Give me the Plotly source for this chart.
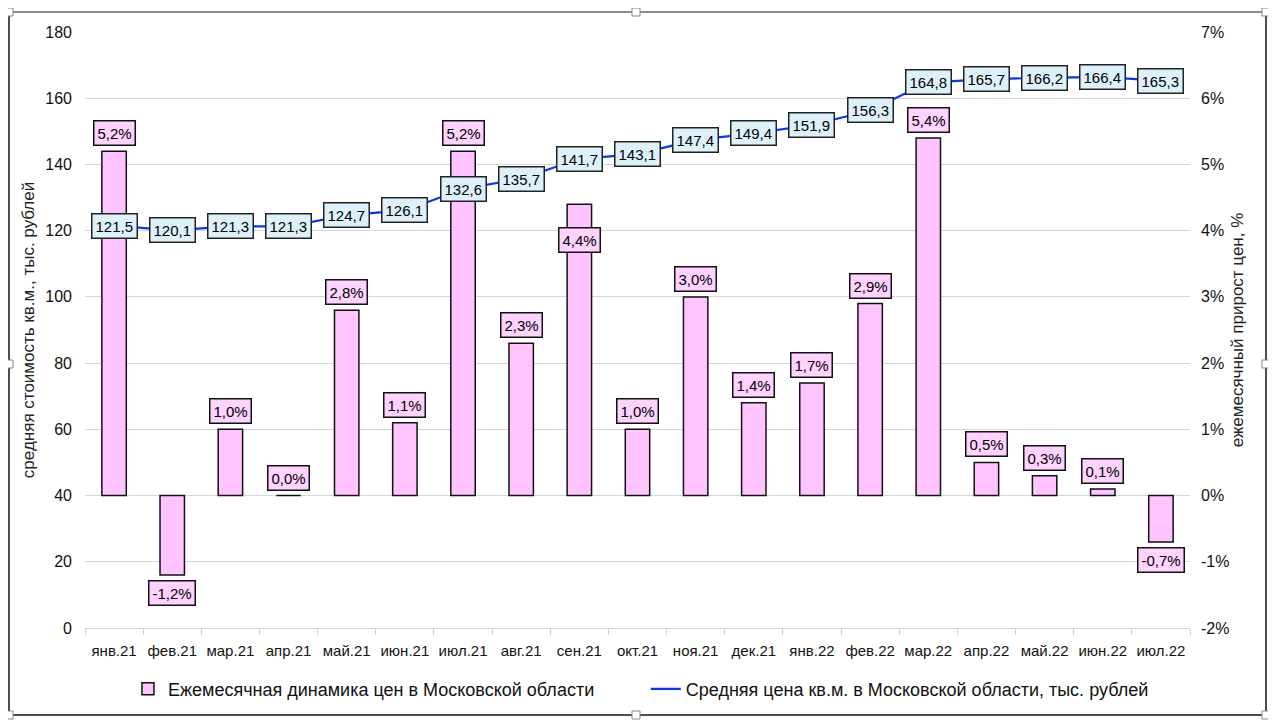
import plotly.graph_objects as go

months = ["янв.21", "фев.21", "мар.21", "апр.21", "май.21", "июн.21", "июл.21", "авг.21",
          "сен.21", "окт.21", "ноя.21", "дек.21", "янв.22", "фев.22", "мар.22", "апр.22",
          "май.22", "июн.22", "июл.22"]
growth_pct = [5.2, -1.2, 1.0, 0.0, 2.8, 1.1, 5.2, 2.3, 4.4, 1.0, 3.0, 1.4, 1.7, 2.9, 5.4, 0.5, 0.3, 0.1, -0.7]
avg_price = [121.5, 120.1, 121.3, 121.3, 124.7, 126.1, 132.6, 135.7, 141.7, 143.1, 147.4, 149.4,
             151.9, 156.3, 164.8, 165.7, 166.2, 166.4, 165.3]
left_ticks = [0, 20, 40, 60, 80, 100, 120, 140, 160, 180]
right_ticks = [-2, -1, 0, 1, 2, 3, 4, 5, 6, 7]

bar_name = "Ежемесячная динамика цен в Московской области"
line_name = "Средняя цена кв.м. в Московской области, тыс. рублей"
left_title = "средняя стоимость кв.м., тыс. рублей"
right_title = "ежемесячный прирост цен, %"

NARROW = "Liberation Sans Narrow, Arial Narrow, Liberation Sans, sans-serif"
REG = "Liberation Sans, Arial, sans-serif"

# page body has an 8px margin; figure coordinates are screen minus 8
OFF = 8
W, H = 1268, 720
L, R, T, B = 77, 86, 24, 100
pw, ph = W - L - R, H - T - B

fig = go.Figure()
fig.add_trace(go.Bar(
    x=months, y=growth_pct, yaxis="y2", name=bar_name, width=0.42,
    marker=dict(color="#FFC4FF", line=dict(color="#111111", width=1.5)),
    legend="legend", hoverinfo="skip"))
fig.add_trace(go.Scatter(
    x=months, y=avg_price, yaxis="y", mode="lines", name=line_name,
    line=dict(color="#0A32FF", width=2.2), legend="legend2", hoverinfo="skip"))

def fmt(v, suffix=""):
    return (f"{v:.1f}").replace(".", ",") + suffix

annotations = []
for m, v in zip(months, avg_price):
    annotations.append(dict(x=m, y=v, xref="x", yref="y", text=fmt(v), showarrow=False,
                            font=dict(family=NARROW, size=15, color="#000"),
                            bgcolor="#DDF1FB", bordercolor="#222", borderwidth=1.5, borderpad=3))
for m, v in zip(months, growth_pct):
    if v < 0:
        ys = -18
    elif m == "сен.21":
        ys = -36
    else:
        ys = 18
    annotations.append(dict(x=m, y=v, xref="x", yref="y2", text=fmt(v, "%"), showarrow=False,
                            yshift=ys,
                            font=dict(family=NARROW, size=15, color="#000"),
                            bgcolor="#FFD2FF", bordercolor="#111", borderwidth=1.5, borderpad=3))

def px2paper(x, y):
    x -= OFF
    y -= OFF
    return (x - L) / pw, (H - B - y) / ph

shapes = []
x0, y0 = px2paper(9, 12)
x1, y1 = px2paper(1266, 715)
shapes.append(dict(type="line", xref="paper", yref="paper", x0=x0, y0=y0, x1=x1, y1=y0,
                   line=dict(color="#666", width=1.5)))
shapes.append(dict(type="line", xref="paper", yref="paper", x0=x0, y0=y1, x1=x1, y1=y1,
                   line=dict(color="#111", width=1.5)))
shapes.append(dict(type="line", xref="paper", yref="paper", x0=x0, y0=y0, x1=x0, y1=y1,
                   line=dict(color="#111", width=1.5)))
shapes.append(dict(type="line", xref="paper", yref="paper", x0=x1, y0=y0, x1=x1, y1=y1,
                   line=dict(color="#111", width=1.5)))
sx, sy0 = px2paper(636, 8)
_, sy1 = px2paper(636, 12)
shapes.append(dict(type="line", xref="paper", yref="paper", x0=sx, y0=sy0, x1=sx, y1=sy1,
                   line=dict(color="#666", width=1)))
for hx, hy in [(9, 12), (636, 12), (1266, 12), (9, 364), (1266, 364), (9, 715), (636, 715), (1266, 715)]:
    a, b = px2paper(hx - 4, hy - 4)
    c, d = px2paper(hx + 4, hy + 4)
    shapes.append(dict(type="rect", xref="paper", yref="paper", x0=a, y0=b, x1=c, y1=d,
                       fillcolor="white", line=dict(color="#888", width=1)))

fig.update_layout(
    width=W, height=H, margin=dict(l=L, r=R, t=T, b=B, autoexpand=False),
    paper_bgcolor="white", plot_bgcolor="white",
    separators=", ",
    showlegend=True, barmode="overlay",
    xaxis=dict(type="category", showgrid=False, showline=True, linecolor="#D0D0D0", linewidth=1,
               ticks="outside", tickson="boundaries", ticklen=6, tickcolor="#D0D0D0",
               tickangle=0, automargin=False, ticklabelstandoff=9,
               tickfont=dict(family=NARROW, size=15, color="#111"), range=[-0.5, 18.5]),
    yaxis=dict(range=[0, 180], tickvals=left_ticks, showgrid=True, gridcolor="#D6D6D6", gridwidth=1,
               zeroline=False, showline=False, ticks="", ticklabelstandoff=12, automargin=False,
               tickfont=dict(family=REG, size=16, color="#111"),
               title=dict(text=left_title, font=dict(family=REG, size=17, color="#222"), standoff=6)),
    yaxis2=dict(range=[-2, 7], tickvals=right_ticks, ticktext=[f"{t}%" for t in right_ticks],
                overlaying="y", side="right", showgrid=False, zeroline=False, showline=False,
                ticks="", ticklabelstandoff=10, automargin=False,
                tickfont=dict(family=NARROW, size=16, color="#111"),
                title=dict(text=right_title, font=dict(family=REG, size=17, color="#222"), standoff=2)),
    legend=dict(orientation="h", xref="container", yref="container", x=0.0946, y=0.054,
                xanchor="left", yanchor="middle",
                font=dict(family=NARROW, size=18, color="#111"), bgcolor="rgba(0,0,0,0)"),
    legend2=dict(orientation="h", xref="container", yref="container", x=0.503, y=0.054,
                 xanchor="left", yanchor="middle",
                 font=dict(family=NARROW, size=18, color="#111"), bgcolor="rgba(0,0,0,0)"),
    annotations=annotations, shapes=shapes,
)

fig.write_html("out.html")
